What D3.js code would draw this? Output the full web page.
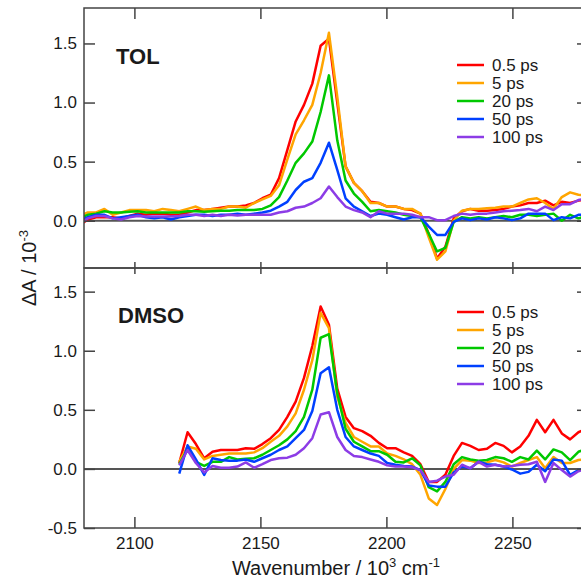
<!DOCTYPE html>
<html>
<head>
<meta charset="utf-8">
<script src="https://cdnjs.cloudflare.com/ajax/libs/d3/7.8.5/d3.min.js"></script>
<style>
  body { margin: 0; background: #fff; }
  text { font-family: "Liberation Sans", Arial, sans-serif; fill: #1a1a1a; }
</style>
</head>
<body>
<div id="chart"></div>
<script>
// legend / series
var delays = ["0.5 ps", "5 ps", "20 ps", "50 ps", "100 ps"];
var colors = ["#ff0000", "#ffa500", "#00c800", "#0040ff", "#8c3ce6"];

// ticks
var xTicks = [2100, 2150, 2200, 2250];
var tolTicks = [0, 0.5, 1.0, 1.5];
var dmsoTicks = [-0.5, 0, 0.5, 1.0, 1.5];

// TOL spectra (wavenumber, dA / 10^-3)
var wnTOL = [2078.2, 2081.5, 2084.8, 2088.1, 2091.4, 2094.7, 2098.0, 2101.3, 2104.6, 2107.9,
  2111.2, 2114.5, 2117.8, 2121.1, 2124.4, 2127.7, 2131.0, 2134.3, 2137.6, 2140.9,
  2144.2, 2147.5, 2150.8, 2154.1, 2157.4, 2160.7, 2164.0, 2167.3, 2170.6, 2173.9,
  2177.2, 2180.5, 2183.8, 2187.1, 2190.4, 2193.7, 2197.0, 2200.3, 2203.6, 2206.9,
  2210.2, 2213.5, 2216.8, 2220.1, 2223.4, 2226.7, 2230.0, 2233.3, 2236.6, 2239.9,
  2243.2, 2246.5, 2249.8, 2253.1, 2256.4, 2259.7, 2263.0, 2266.3, 2269.6, 2272.9,
  2276.2, 2279.5];
var tol05 = [-0.04, 0.01, 0.03, 0.03, 0.03, 0.02, 0.04, 0.06, 0.05, 0.06,
  0.06, 0.05, 0.05, 0.07, 0.09, 0.09, 0.10, 0.11, 0.12, 0.12,
  0.13, 0.15, 0.19, 0.22, 0.36, 0.60, 0.84, 0.98, 1.16, 1.48,
  1.54, 1.00, 0.46, 0.32, 0.25, 0.16, 0.15, 0.12, 0.12, 0.10,
  0.09, 0.06, -0.11, -0.32, -0.22, 0.02, 0.08, 0.10, 0.085, 0.085,
  0.09, 0.10, 0.12, 0.13, 0.15, 0.15, 0.17, 0.13, 0.16, 0.15, 0.17, 0.18];
var tol5 = [0.04, 0.07, 0.07, 0.10, 0.05, 0.07, 0.09, 0.09, 0.09, 0.08,
  0.10, 0.09, 0.08, 0.10, 0.12, 0.09, 0.10, 0.10, 0.12, 0.12,
  0.11, 0.15, 0.18, 0.21, 0.30, 0.52, 0.73, 0.85, 0.98, 1.25,
  1.59, 1.05, 0.46, 0.32, 0.25, 0.15, 0.15, 0.12, 0.12, 0.10,
  0.10, 0.06, -0.14, -0.33, -0.26, 0.00, 0.085, 0.10, 0.10, 0.105,
  0.11, 0.12, 0.12, 0.15, 0.18, 0.19, 0.15, 0.10, 0.20, 0.24, 0.22, 0.21];
var tol20 = [0.02, 0.05, 0.06, 0.08, 0.07, 0.07, 0.075, 0.08, 0.07, 0.07,
  0.07, 0.07, 0.07, 0.08, 0.08, 0.075, 0.08, 0.085, 0.085, 0.09,
  0.09, 0.09, 0.10, 0.13, 0.20, 0.34, 0.49, 0.57, 0.67, 0.92,
  1.23, 0.68, 0.34, 0.23, 0.16, 0.08, 0.09, 0.08, 0.07, 0.05,
  0.04, 0.03, -0.11, -0.26, -0.23, -0.01, 0.03, 0.02, 0.03, 0.02,
  0.03, 0.04, 0.03, 0.05, 0.05, 0.04, 0.05, 0.06, 0.00, 0.05, 0.02, 0.04];
var tol50 = [0.00, 0.03, 0.05, 0.05, 0.02, 0.03, 0.04, 0.05, 0.03, 0.02,
  0.03, 0.01, 0.03, 0.04, 0.05, 0.05, 0.04, 0.05, 0.05, 0.06,
  0.05, 0.06, 0.07, 0.085, 0.12, 0.16, 0.26, 0.33, 0.36, 0.49,
  0.66, 0.43, 0.19, 0.12, 0.08, 0.04, 0.06, 0.05, 0.03, 0.01,
  0.03, 0.03, -0.05, -0.12, -0.12, -0.01, 0.02, 0.005, 0.02, 0.01,
  0.03, 0.02, 0.005, 0.02, 0.06, 0.06, 0.06, 0.005, 0.03, 0.02, 0.05, 0.05];
var tol100 = [-0.03, 0.02, 0.04, 0.04, 0.02, 0.01, 0.03, 0.04, 0.035, 0.035,
  0.035, 0.035, 0.04, 0.05, 0.05, 0.04, 0.05, 0.04, 0.05, 0.045,
  0.05, 0.05, 0.05, 0.05, 0.07, 0.08, 0.11, 0.12, 0.15, 0.19,
  0.29, 0.20, 0.12, 0.09, 0.07, 0.03, 0.08, 0.06, 0.06, 0.06,
  0.05, 0.03, 0.03, 0.005, 0.005, 0.04, 0.06, 0.05, 0.06, 0.06,
  0.07, 0.08, 0.085, 0.09, 0.10, 0.08, 0.12, 0.09, 0.14, 0.14, 0.175, 0.19];

// DMSO spectra
var wnDMSO = [2117.8, 2121.1, 2124.4, 2127.7, 2131.0, 2134.3, 2137.6, 2140.9, 2144.2, 2147.5,
  2150.8, 2154.1, 2157.4, 2160.7, 2164.0, 2167.3, 2170.6, 2173.9, 2177.2, 2180.5,
  2183.8, 2187.1, 2190.4, 2193.7, 2197.0, 2200.3, 2203.6, 2206.9, 2210.2, 2213.5,
  2216.8, 2220.1, 2223.4, 2226.7, 2230.0, 2233.3, 2236.6, 2239.9, 2243.2, 2246.5,
  2249.8, 2253.1, 2256.4, 2259.7, 2263.0, 2266.3, 2269.6, 2272.9, 2276.2, 2279.5];
var dmso05 = [0.05, 0.31, 0.21, 0.09, 0.145, 0.16, 0.16, 0.16, 0.175, 0.17,
  0.21, 0.26, 0.33, 0.44, 0.57, 0.77, 1.04, 1.375, 1.22, 0.68,
  0.44, 0.345, 0.32, 0.28, 0.22, 0.175, 0.175, 0.14, 0.11, 0.04,
  -0.11, -0.11, -0.05, 0.11, 0.22, 0.195, 0.16, 0.17, 0.22, 0.195,
  0.14, 0.19, 0.28, 0.415, 0.31, 0.415, 0.30, 0.25, 0.31, 0.34];
var dmso5 = [0.06, 0.19, 0.17, 0.08, 0.11, 0.12, 0.13, 0.13, 0.13, 0.14,
  0.175, 0.23, 0.28, 0.36, 0.47, 0.67, 0.92, 1.32, 1.19, 0.61,
  0.39, 0.27, 0.23, 0.19, 0.19, 0.13, 0.11, 0.08, 0.04, -0.05,
  -0.25, -0.305, -0.17, 0.00, 0.075, 0.07, 0.05, 0.055, 0.075, 0.055,
  0.02, 0.05, 0.075, 0.10, 0.005, 0.10, 0.05, 0.05, 0.075, 0.08];
var dmso20 = [0.04, 0.165, 0.06, 0.025, 0.06, 0.06, 0.10, 0.08, 0.085, 0.09,
  0.12, 0.16, 0.20, 0.25, 0.32, 0.44, 0.67, 1.11, 1.14, 0.64,
  0.34, 0.23, 0.19, 0.15, 0.15, 0.12, 0.06, 0.055, 0.09, 0.03,
  -0.155, -0.19, -0.11, 0.04, 0.10, 0.08, 0.07, 0.075, 0.10, 0.09,
  0.06, 0.10, 0.08, 0.155, 0.08, 0.165, 0.14, 0.075, 0.145, 0.17];
var dmso50 = [-0.04, 0.20, 0.08, -0.05, 0.09, 0.075, 0.07, 0.07, 0.08, 0.06,
  0.09, 0.12, 0.16, 0.19, 0.26, 0.33, 0.49, 0.81, 0.86, 0.50,
  0.27, 0.19, 0.16, 0.13, 0.11, 0.05, 0.035, 0.025, 0.02, -0.01,
  -0.14, -0.15, -0.15, -0.03, 0.02, 0.005, 0.06, 0.04, 0.035, 0.02,
  -0.005, -0.04, -0.025, 0.035, -0.02, 0.08, 0.07, -0.05, -0.01, 0.00];
var dmso100 = [0.03, 0.16, 0.05, -0.03, 0.025, 0.01, 0.01, 0.02, 0.055, 0.01,
  0.04, 0.075, 0.09, 0.095, 0.12, 0.175, 0.26, 0.46, 0.48, 0.27,
  0.16, 0.11, 0.10, 0.08, 0.06, 0.03, 0.02, 0.02, 0.015, -0.01,
  -0.11, -0.10, -0.065, -0.05, 0.035, 0.005, 0.06, 0.02, 0.035, 0.02,
  0.025, 0.035, 0.04, 0.06, -0.11, 0.05, -0.01, -0.065, -0.02, 0.00];

var W = 581, H = 581;
var left = 84, right = 588;
var frameColor = "#444";

var svg = d3.select("#chart").append("svg")
  .attr("width", W)
  .attr("height", H);

var x = d3.scaleLinear().domain([2080, 2280]).range([left, right]);

var panels = [
  {name: "TOL", top: 8, bottom: 268, domain: [-0.4, 1.8], ticks: tolTicks,
   wn: wnTOL, series: [tol05, tol5, tol20, tol50, tol100],
   labelX: 116, labelY: 64, legendY: 65, topTick: 11, bottomTick: 6, xLabels: false},
  {name: "DMSO", top: 268, bottom: 528, domain: [-0.5, 1.7], ticks: dmsoTicks,
   wn: wnDMSO, series: [dmso05, dmso5, dmso20, dmso50, dmso100],
   labelX: 118, labelY: 323, legendY: 312, topTick: 6, bottomTick: 11, xLabels: true}
];

function styleAxis(g) {
  g.select(".domain").remove();
  g.selectAll(".tick line").attr("stroke", frameColor).attr("stroke-width", 1.5);
  g.selectAll(".tick text").attr("font-size", 17).attr("fill", "#1a1a1a")
    .style("font-family", "'Liberation Sans', Arial, sans-serif");
}

panels.forEach(function(p, pi) {
  var y = d3.scaleLinear().domain(p.domain).range([p.bottom, p.top]);

  svg.append("clipPath")
    .attr("id", "clip" + pi)
    .append("rect")
    .attr("x", left).attr("y", p.top)
    .attr("width", right - left).attr("height", p.bottom - p.top);

  var plot = svg.append("g").attr("clip-path", "url(#clip" + pi + ")");

  // zero line
  plot.append("line")
    .attr("x1", left).attr("x2", right)
    .attr("y1", y(0)).attr("y2", y(0))
    .attr("stroke", "#555")
    .attr("stroke-width", 2);

  var line = d3.line()
    .x(function(d) { return x(d[0]); })
    .y(function(d) { return y(d[1]); });

  p.series.forEach(function(vals, i) {
    var pts = p.wn.map(function(w, k) { return [w, vals[k]]; });
    plot.append("path")
      .datum(pts)
      .attr("d", line)
      .attr("fill", "none")
      .attr("stroke", colors[i])
      .attr("stroke-width", 2.5)
      .attr("stroke-linejoin", "round");
  });

  // axes, ticks pointing inward
  svg.append("g")
    .attr("transform", "translate(" + left + ",0)")
    .call(d3.axisLeft(y).tickValues(p.ticks).tickSize(-11).tickPadding(7)
      .tickFormat(function(d) { return d.toFixed(1); }))
    .call(styleAxis);

  svg.append("g")
    .attr("transform", "translate(" + right + ",0)")
    .call(d3.axisRight(y).tickValues(p.ticks).tickSize(-11).tickFormat(""))
    .call(styleAxis);

  svg.append("g")
    .attr("transform", "translate(0," + p.top + ")")
    .call(d3.axisTop(x).tickValues(xTicks).tickSize(-p.topTick).tickFormat(""))
    .call(styleAxis);

  svg.append("g")
    .attr("transform", "translate(0," + p.bottom + ")")
    .call(d3.axisBottom(x).tickValues(xTicks).tickSize(-p.bottomTick).tickPadding(9)
      .tickFormat(p.xLabels ? d3.format("d") : ""))
    .call(styleAxis);

  svg.append("rect")
    .attr("x", left).attr("y", p.top)
    .attr("width", right - left).attr("height", p.bottom - p.top)
    .attr("fill", "none")
    .attr("stroke", frameColor)
    .attr("stroke-width", 1.5);

  svg.append("text")
    .attr("x", p.labelX).attr("y", p.labelY)
    .attr("font-size", 22)
    .attr("font-weight", "bold")
    .text(p.name);

  // legend
  var legend = svg.append("g");
  delays.forEach(function(lab, i) {
    var ly = p.legendY + i * 18;
    legend.append("line")
      .attr("x1", 457).attr("x2", 484)
      .attr("y1", ly).attr("y2", ly)
      .attr("stroke", colors[i])
      .attr("stroke-width", 2.5);
    legend.append("text")
      .attr("x", 492).attr("y", ly + 6)
      .attr("font-size", 17)
      .text(lab);
  });
});

// axis titles
var xt = svg.append("text")
  .attr("x", (left + right) / 2).attr("y", 575)
  .attr("text-anchor", "middle")
  .attr("font-size", 20);
xt.append("tspan").text("Wavenumber / 10");
xt.append("tspan").attr("dy", -8).attr("font-size", 13).text("3");
xt.append("tspan").attr("dy", 8).text(" cm");
xt.append("tspan").attr("dy", -8).attr("font-size", 13).text("-1");

var yt = svg.append("text")
  .attr("transform", "translate(36,268) rotate(-90)")
  .attr("text-anchor", "middle")
  .attr("font-size", 20);
yt.append("tspan").text("\u0394A / 10");
yt.append("tspan").attr("dy", -8).attr("font-size", 13).text("-3");
</script>
</body>
</html>
